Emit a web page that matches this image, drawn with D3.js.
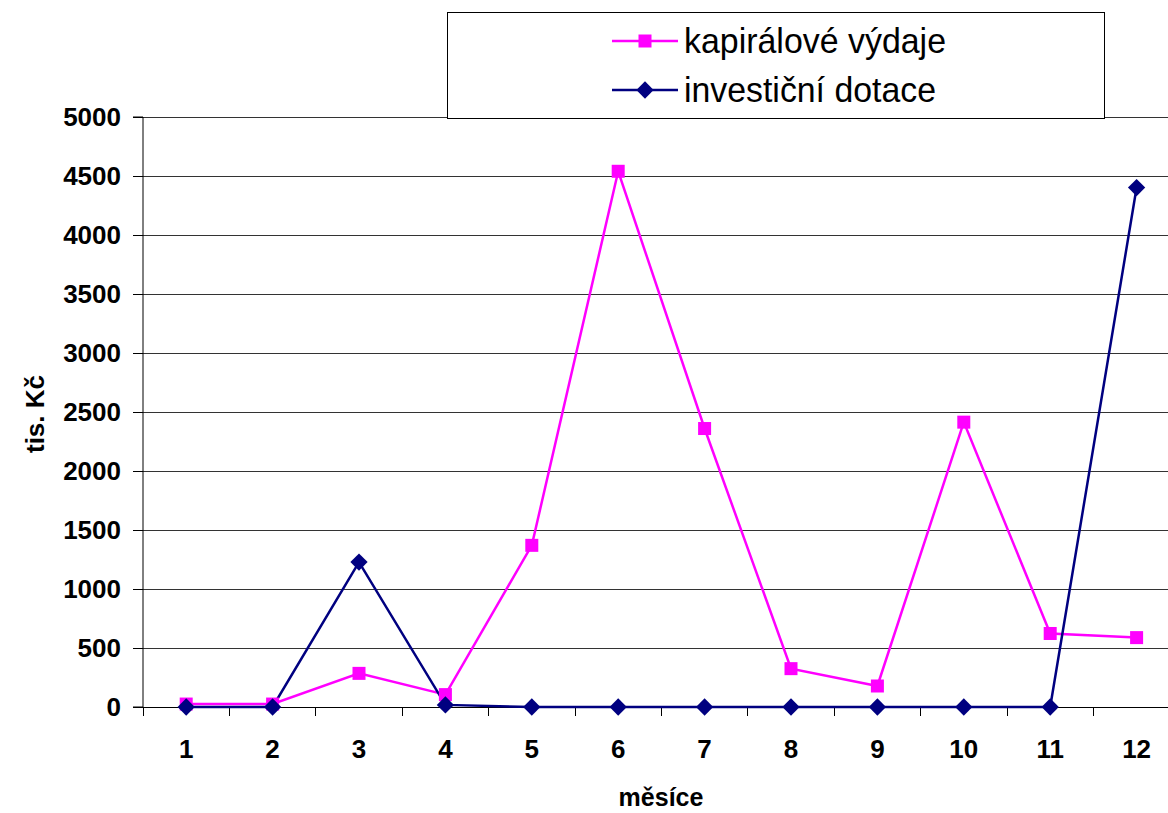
<!DOCTYPE html>
<html><head><meta charset="utf-8">
<script src="https://cdn.jsdelivr.net/npm/d3@7/dist/d3.min.js"></script>
<style>
html,body{margin:0;padding:0;background:#fff;overflow:hidden}
svg{display:block;font-family:"Liberation Sans",Arial,sans-serif}
</style></head>
<body>
<svg id="chart" width="1168" height="813"></svg>
<script>
const months = ["1","2","3","4","5","6","7","8","9","10","11","12"];
const kapitaloveVydaje = [25, 25, 285, 105, 1370, 4540, 2360, 325, 178, 2414, 623, 588];
const investicniDotace = [0, 0, 1228, 18, 0, 0, 0, 0, 0, 0, 0, 4402];
const yTicks = [0, 500, 1000, 1500, 2000, 2500, 3000, 3500, 4000, 4500, 5000];
const seriesNames = ["kapirálové výdaje", "investiční dotace"];

(function () {
const svg = d3.select("#chart");
const pLeft = 143, pRight = 143 + 12 * 86.4, pTop = 117, pBottom = 707;

const x = d3.scaleBand().domain(months).range([pLeft, pRight]);
const y = d3.scaleLinear().domain([0, 5000]).range([pBottom, pTop]);

// gridlines
svg.append("g").selectAll("line").data(yTicks.filter(d => d > 0)).join("line")
  .attr("x1", pLeft).attr("x2", 1168)
  .attr("y1", d => y(d)).attr("y2", d => y(d))
  .attr("stroke", "#333").attr("stroke-width", 1).attr("shape-rendering", "crispEdges");

// y axis
const yAxis = d3.axisLeft(y).tickValues(yTicks).tickSize(10).tickPadding(12).tickFormat(d3.format("d"));
const gy = svg.append("g").attr("transform", `translate(${pLeft},0)`).call(yAxis);
gy.select(".domain").attr("stroke", "#000").attr("d", `M-10,${pTop}H0V${pBottom}H-10`);
gy.selectAll(".tick line").attr("stroke", "#000");
gy.selectAll("text").attr("font-size", 26).attr("font-weight", "bold").attr("fill", "#000")
  .attr("font-family", "Liberation Sans, Arial, sans-serif");

// x axis
svg.append("line").attr("x1", pLeft).attr("x2", 1168).attr("y1", pBottom).attr("y2", pBottom)
  .attr("stroke", "#000").attr("stroke-width", 1).attr("shape-rendering", "crispEdges");
const boundaries = months.map(m => x(m)).concat([pRight]);
svg.append("g").selectAll("line").data(boundaries).join("line")
  .attr("x1", d => d).attr("x2", d => d).attr("y1", pBottom).attr("y2", pBottom + 9)
  .attr("stroke", "#000").attr("shape-rendering", "crispEdges");
svg.append("g").selectAll("text").data(months).join("text")
  .attr("x", d => x(d) + x.bandwidth() / 2).attr("y", 758)
  .attr("text-anchor", "middle").attr("font-size", 26).attr("font-weight", "bold")
  .text(d => d);

// axis titles
svg.append("text").attr("x", 661).attr("y", 806).attr("text-anchor", "middle")
  .attr("font-size", 25).attr("font-weight", "bold").text("měsíce");
svg.append("text").attr("transform", "translate(44,414) rotate(-90)").attr("text-anchor", "middle")
  .attr("font-size", 26).attr("font-weight", "bold").text("tis. Kč");

const cx = d => x(d) + x.bandwidth() / 2;
const line = d3.line().x(d => cx(d.m)).y(d => y(d.v));

const pinkData = months.map((m, i) => ({m, v: kapitaloveVydaje[i]}));
const blueData = months.map((m, i) => ({m, v: investicniDotace[i]}));

svg.append("path").datum(pinkData).attr("d", line).attr("fill", "none")
  .attr("stroke", "#FF00FF").attr("stroke-width", 2.5);
svg.append("path").datum(blueData).attr("d", line).attr("fill", "none")
  .attr("stroke", "#000080").attr("stroke-width", 2.5);

const sq = 13;
svg.append("g").selectAll("rect").data(pinkData).join("rect")
  .attr("x", d => cx(d.m) - sq / 2).attr("y", d => y(d.v) - sq / 2)
  .attr("width", sq).attr("height", sq).attr("fill", "#FF00FF");

const diamond = d3.symbol().type(d3.symbolDiamond2).size(190);
svg.append("g").selectAll("path").data(blueData).join("path")
  .attr("transform", d => `translate(${cx(d.m)},${y(d.v)})`)
  .attr("d", diamond).attr("fill", "#000080");

// legend
const lg = svg.append("g");
lg.append("rect").attr("x", 447.5).attr("y", 12.5).attr("width", 657).attr("height", 106)
  .attr("fill", "#fff").attr("stroke", "#000").attr("stroke-width", 1);
const legendItems = [
  {name: seriesNames[0], color: "#FF00FF", type: "sq", yy: 41},
  {name: seriesNames[1], color: "#000080", type: "dm", yy: 90}
];
legendItems.forEach(it => {
  lg.append("line").attr("x1", 612).attr("x2", 678).attr("y1", it.yy).attr("y2", it.yy)
    .attr("stroke", it.color).attr("stroke-width", 2.5);
  if (it.type === "sq") {
    lg.append("rect").attr("x", 645 - sq / 2).attr("y", it.yy - sq / 2).attr("width", sq).attr("height", sq).attr("fill", it.color);
  } else {
    lg.append("path").attr("transform", `translate(645,${it.yy})`).attr("d", diamond).attr("fill", it.color);
  }
  lg.append("text").attr("x", 684).attr("y", it.yy + 12).attr("font-size", 35)
    .attr("textLength", it.type === "sq" ? 262 : 252).attr("lengthAdjust", "spacingAndGlyphs")
    .text(it.name);
});
})();
</script>
</body></html>
